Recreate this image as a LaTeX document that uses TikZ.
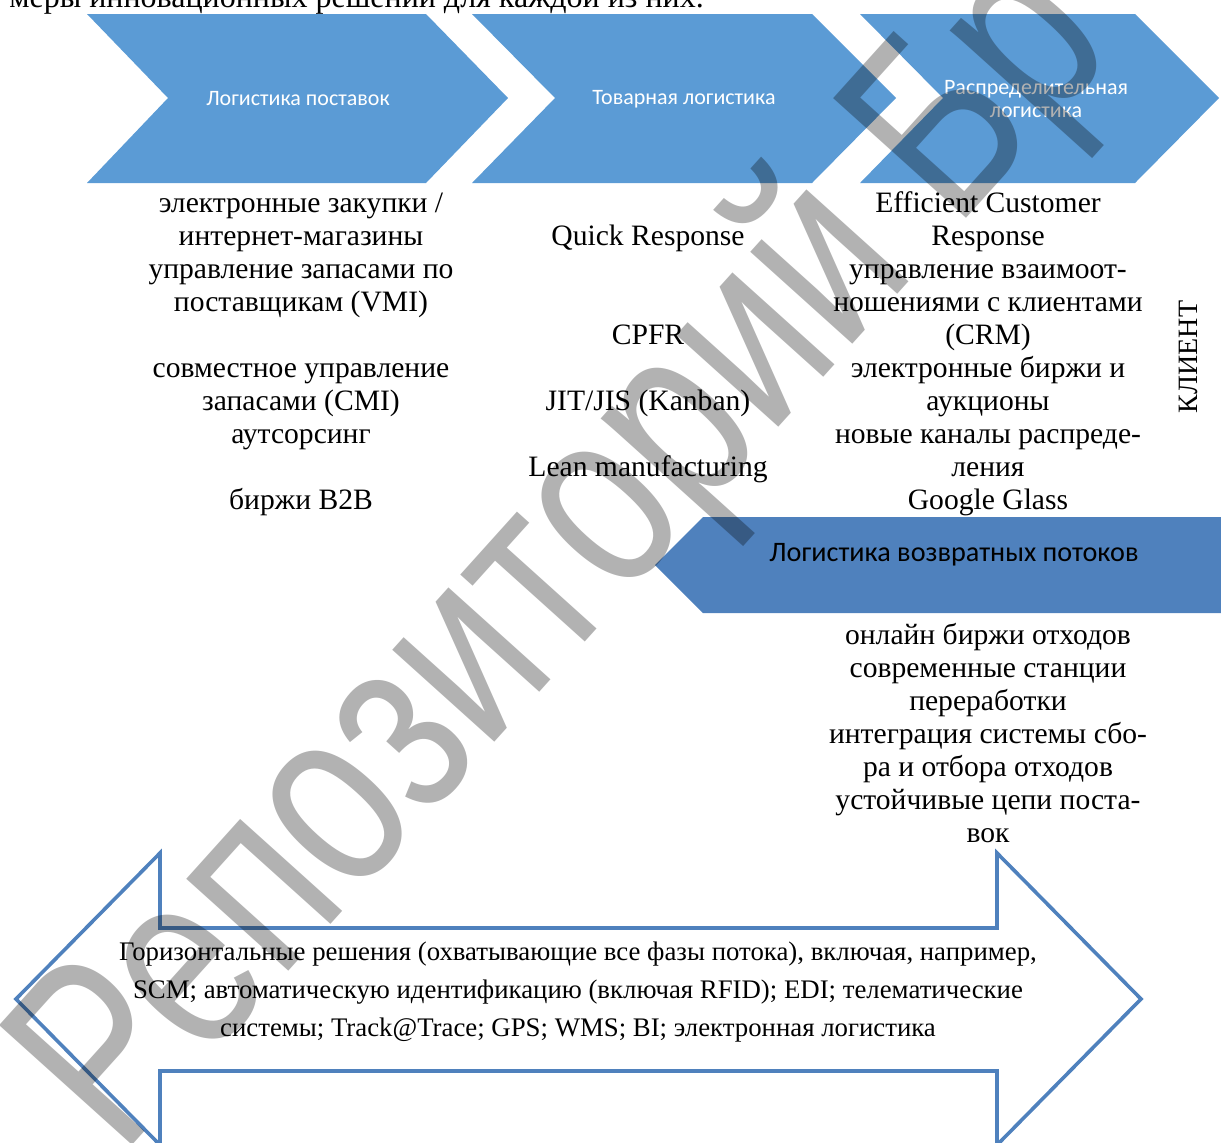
\documentclass[tikz,border=0pt]{standalone}
\usepackage{fontspec}
\setmainfont{Liberation Serif}
\newfontfamily\calibrifont{Carlito}
\newfontfamily\markfont{Liberation Sans}
\usetikzlibrary{positioning}

\definecolor{chevblue}{HTML}{5B9BD5}
\definecolor{flowblue}{HTML}{4F81BD}

\begin{document}
\begin{tikzpicture}[
    x=0.5pt, y=-0.5pt,
    every node/.style={
        align=center,
        inner sep=0pt
    },
    chevron/.style={fill=chevblue},
    backflow/.style={fill=flowblue},
    bothways/.style={draw=flowblue, line width=1.8pt, line join=miter},
    phase/.style={font=\calibrifont\fontsize{11}{11.5}\selectfont, text=white},
    measures/.style={font=\fontsize{14.8}{16.5}\selectfont, anchor=north},
    horizontal/.style={font=\fontsize{13.4}{19}\selectfont, anchor=north},
    watermark/.style={font=\markfont\fontsize{100}{100}\selectfont, text=black, text opacity=0.3}
]
\useasboundingbox (0,0) rectangle (1221,1142);

% === Cut-off line of the text above ===
\node[anchor=base west, font=\fontsize{16}{19}\selectfont] (intro) at (9,7) {меры инновационных решений для каждой из них.};

% === Phase chevrons (top row) ===
\fill[chevron] (87,14) -- (426,14) -- (508,98) -- (426,183) -- (87,183) -- (168,98) -- cycle;
\fill[chevron] (472,14) -- (812,14) -- (896,98) -- (812,183) -- (472,183) -- (555,98) -- cycle;
\fill[chevron] (860,14) -- (1135,14) -- (1219,98) -- (1135,183) -- (860,183) -- (943,98) -- cycle;

\node[phase] (supply) at (298,99) {Логистика поставок};
\node[phase] (goods) at (684,99) {Товарная логистика};
\node[phase] (distrib) at (1036,99) {Распределительная\\логистика};

% === Measures under each phase ===
\node[measures] (supplylist) at (301,189) {\strut электронные закупки /\\интернет-магазины\\управление запасами по\\поставщикам (VMI)\\\strut\\совместное управление\\запасами (CMI)\\аутсорсинг\\\strut\\биржи B2B};
\node[measures] (goodslist) at (648,189) {\strut\\Quick Response\\\strut\\\strut\\CPFR\\\strut\\JIT/JIS (Kanban)\\\strut\\Lean manufacturing};
\node[measures] (distriblist) at (988,189) {\strut Efficient Customer\\Response\\управление взаимоот-\\ношениями с клиентами\\(CRM)\\электронные биржи и\\аукционы\\новые каналы распреде-\\ления\\Google Glass};

\node[rotate=90, font=\fontsize{14}{16.5}\selectfont] (client) at (1188,357) {КЛИЕНТ};

% === Return flows ===
\fill[backflow] (1225,517) -- (703,517) -- (655,565) -- (703,613) -- (1225,613) -- cycle;
\node[font=\calibrifont\fontsize{14.1}{17}\selectfont] (returns) at (954,555) {Логистика возвратных потоков};
\node[measures] (returnlist) at (988,621) {\strut онлайн биржи отходов\\современные станции\\переработки\\интеграция системы сбо-\\ра и отбора отходов\\устойчивые цепи поста-\\вок};

% === Horizontal solutions (double arrow) ===
\draw[bothways] (16,999) -- (160,853) -- (160,928) -- (997,928) -- (997,853) -- (1141,999)
    -- (997,1145) -- (997,1071) -- (160,1071) -- (160,1145) -- cycle;
\node[horizontal] (across) at (578,933) {\strut Горизонтальные решения (охватывающие все фазы потока), включая, например,\\SCM; автоматическую идентификацию (включая RFID); EDI; телематические\\системы; Track@Trace; GPS; WMS; BI; электронная логистика};

% === Watermark ===
\node[watermark, rotate=48] (mark) at (568,557) {\scalebox{1}[1.3]{Репозиторий Бр}};

\end{tikzpicture}
\end{document}
